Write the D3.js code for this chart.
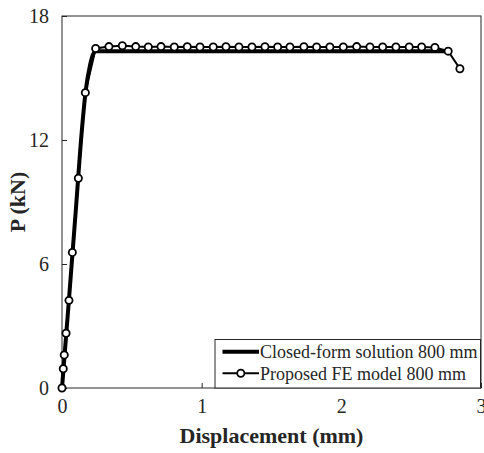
<!DOCTYPE html>
<html>
<head>
<meta charset="utf-8">
<script src="https://cdn.jsdelivr.net/npm/d3@7/dist/d3.min.js"></script>
<style>
  html, body { margin: 0; padding: 0; background: #fff; }
  svg { display: block; }
  text { font-family: "Liberation Serif", "Times New Roman", serif; fill: #262626; }
</style>
</head>
<body>
<svg id="chart" width="484" height="453"></svg>
<script>
// Closed-form load–displacement curve (mm, kN)
const closedDisp = [0, 0.05, 0.1, 0.14, 0.17, 0.2, 0.22, 0.24, 2.755];
const closedLoad = [0, 4.3, 8.7, 12.3, 14.4, 15.6, 16.1, 16.3, 16.3];

// Proposed FE model results (mm, kN)
const feDisp = [0, 0.009, 0.016, 0.029, 0.05, 0.074, 0.117, 0.167,
  0.241, 0.336, 0.432, 0.528, 0.618, 0.709, 0.804, 0.897, 0.988, 1.083,
  1.174, 1.267, 1.360, 1.453, 1.544, 1.632, 1.732, 1.823, 1.918, 2.014,
  2.110, 2.205, 2.296, 2.391, 2.486, 2.575, 2.670, 2.765, 2.849];
const feLoad = [0, 0.93, 1.6, 2.65, 4.24, 6.56, 10.15, 14.29,
  16.43, 16.52, 16.56, 16.52, 16.5, 16.52, 16.5, 16.51, 16.5, 16.5,
  16.51, 16.5, 16.5, 16.51, 16.5, 16.5, 16.51, 16.5, 16.5, 16.5,
  16.52, 16.5, 16.5, 16.5, 16.5, 16.5, 16.48, 16.3, 15.45];

const xTicks = [0, 1, 2, 3];
const yTicks = [0, 6, 12, 18];
const seriesNames = ["Closed-form solution 800 mm", "Proposed FE model 800 mm"];

const serif = '"Liberation Serif", "Times New Roman", serif';
const svg = d3.select("#chart");
const plotLeft = 62, plotRight = 481, plotTop = 16, plotBottom = 388;

const x = d3.scaleLinear().domain([0, 3]).range([plotLeft, plotRight]);
const y = d3.scaleLinear().domain([0, 18]).range([plotBottom, plotTop]);

// axes box
svg.append("rect")
  .attr("x", plotLeft).attr("y", plotTop)
  .attr("width", plotRight - plotLeft).attr("height", plotBottom - plotTop)
  .attr("fill", "none").attr("stroke", "#262626").attr("stroke-width", 1);

// x axis (inward ticks)
const xAxis = svg.append("g").attr("transform", `translate(0,${plotBottom})`)
  .call(d3.axisBottom(x).tickValues(xTicks).tickFormat(d3.format("d"))
    .tickSizeInner(-5).tickSizeOuter(0).tickPadding(11));
xAxis.select(".domain").remove();
xAxis.selectAll("line").attr("stroke", "#262626");
xAxis.selectAll("text").attr("font-size", 20).style("font-family", serif).attr("fill", "#262626");

// y axis (inward ticks)
const yAxis = svg.append("g").attr("transform", `translate(${plotLeft},0)`)
  .call(d3.axisLeft(y).tickValues(yTicks).tickFormat(d3.format("d"))
    .tickSizeInner(-5).tickSizeOuter(0).tickPadding(13));
yAxis.select(".domain").remove();
yAxis.selectAll("line").attr("stroke", "#262626");
yAxis.selectAll("text").attr("font-size", 20).style("font-family", serif).attr("fill", "#262626");

// axis titles
svg.append("text")
  .attr("x", (plotLeft + plotRight) / 2).attr("y", 443)
  .attr("text-anchor", "middle").attr("font-size", 22).attr("font-weight", "bold")
  .style("font-family", serif)
  .text("Displacement (mm)");
svg.append("text")
  .attr("transform", `translate(25,${(plotTop + plotBottom) / 2}) rotate(-90)`)
  .attr("text-anchor", "middle").attr("font-size", 22).attr("font-weight", "bold")
  .style("font-family", serif)
  .text("P (kN)");

const plot = svg.append("g");

// closed-form curve
const closedData = closedDisp.map((d, i) => [d, closedLoad[i]]);
plot.append("path")
  .datum(closedData)
  .attr("fill", "none").attr("stroke", "#000").attr("stroke-width", 4)
  .attr("stroke-linejoin", "round")
  .attr("d", d3.line().x(d => x(d[0])).y(d => y(d[1])).curve(d3.curveMonotoneX));

// FE model line with circle markers
const feData = feDisp.map((d, i) => [d, feLoad[i]]);
plot.append("path")
  .datum(feData)
  .attr("fill", "none").attr("stroke", "#000").attr("stroke-width", 2)
  .attr("d", d3.line().x(d => x(d[0])).y(d => y(d[1])));
plot.selectAll("circle.fe")
  .data(feData).enter().append("circle")
  .attr("class", "fe")
  .attr("cx", d => x(d[0])).attr("cy", d => y(d[1]))
  .attr("r", 3.6)
  .attr("fill", "#fff").attr("stroke", "#000").attr("stroke-width", 1.8);

// legend
const lg = svg.append("g");
lg.append("rect")
  .attr("x", 215).attr("y", 339.5).attr("width", 265.5).attr("height", 48.5)
  .attr("fill", "#fff").attr("stroke", "#262626").attr("stroke-width", 1);
const rows = [351.7, 373.3];
lg.append("line")
  .attr("x1", 222.5).attr("x2", 259).attr("y1", rows[0]).attr("y2", rows[0])
  .attr("stroke", "#000").attr("stroke-width", 4);
lg.append("line")
  .attr("x1", 222.5).attr("x2", 259).attr("y1", rows[1]).attr("y2", rows[1])
  .attr("stroke", "#000").attr("stroke-width", 2);
lg.append("circle")
  .attr("cx", 240.8).attr("cy", rows[1]).attr("r", 3.6)
  .attr("fill", "#fff").attr("stroke", "#000").attr("stroke-width", 1.8);
seriesNames.forEach((name, i) => {
  lg.append("text")
    .attr("x", 260).attr("y", rows[i]).attr("dy", "0.35em")
    .attr("font-size", 18).attr("fill", "#000")
    .style("font-family", serif)
    .text(name);
});
</script>
</body>
</html>
